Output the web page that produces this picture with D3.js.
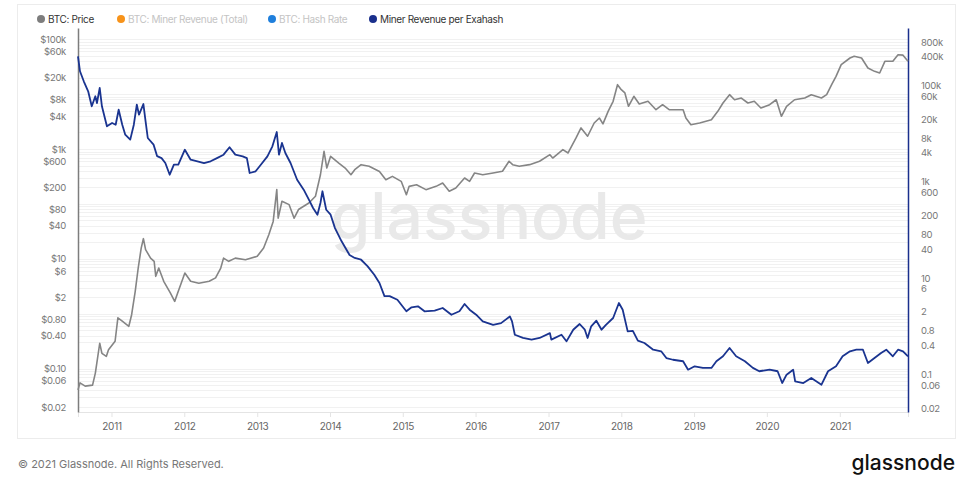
<!DOCTYPE html>
<html><head><meta charset="utf-8">
<script src="https://cdn.jsdelivr.net/npm/d3@7"></script>
<style>
body{margin:0;background:#fff;}
svg{font-family:Inter,"Noto Sans",sans-serif;}
</style>
</head><body>
<svg id="chart" width="974" height="483"></svg>
<script>
// ---------- DATA ----------
const priceDates = ["2010-07-17","2010-07-27","2010-08-22","2010-09-28","2010-10-12","2010-11-03","2010-11-14","2010-12-06","2010-12-17",
"2011-01-19","2011-02-02","2011-02-24","2011-03-29","2011-04-12","2011-04-30","2011-05-15","2011-05-30","2011-06-10","2011-06-21","2011-07-16","2011-08-03","2011-08-11","2011-08-26","2011-09-20","2011-10-23","2011-11-14","2011-12-02",
"2012-01-04","2012-02-02","2012-03-14","2012-05-05","2012-06-06","2012-07-02","2012-07-16","2012-08-11","2012-09-13","2012-11-03",
"2013-01-01","2013-02-02","2013-02-28","2013-03-22","2013-04-09","2013-04-16","2013-05-05","2013-06-10","2013-07-05","2013-07-27","2013-09-17","2013-10-20","2013-11-14","2013-12-02","2013-12-16",
"2014-01-04","2014-02-14","2014-03-18","2014-04-16","2014-05-05","2014-06-06","2014-07-16","2014-09-06","2014-10-08","2014-11-10","2014-12-24",
"2015-01-19","2015-02-02","2015-03-11","2015-04-27","2015-06-17","2015-07-20","2015-08-22","2015-09-24","2015-11-07","2015-12-02","2015-12-27",
"2016-02-06","2016-03-29","2016-05-15","2016-06-17","2016-07-05","2016-08-07","2016-09-28","2016-11-17",
"2017-01-08","2017-01-22","2017-03-14","2017-04-09","2017-05-19","2017-06-13","2017-07-16","2017-08-18","2017-09-13","2017-10-01","2017-10-27","2017-11-21","2017-12-13",
"2018-01-01","2018-01-19","2018-02-06","2018-03-05","2018-04-01","2018-05-15","2018-06-24","2018-07-27","2018-08-29","2018-11-07","2018-11-21","2018-12-16",
"2019-01-29","2019-03-29","2019-04-30","2019-05-26","2019-06-28","2019-07-23","2019-08-26","2019-09-28","2019-10-30","2019-12-02",
"2020-01-15","2020-02-17","2020-03-14","2020-04-09","2020-05-19","2020-07-09","2020-08-11","2020-10-01","2020-10-27","2020-11-21","2020-12-13",
"2021-01-08","2021-02-21","2021-03-14","2021-04-20","2021-05-22","2021-06-24","2021-07-20","2021-08-15","2021-09-24","2021-10-20","2021-11-14","2021-12-09"];
const priceValues = [0.041,0.055,0.048,0.050,0.083,0.29,0.19,0.167,0.22,
0.315,0.84,0.73,0.59,0.96,2.56,6.8,15.7,23.3,14.7,10.3,9.0,4.8,6.8,3.9,2.39,1.68,2.56,
5.5,3.9,3.6,3.9,4.5,6.8,10.3,9.0,10.3,9.6,
11.1,15.7,27.5,48,182,55,112,97,55,79,104,138,340,910,451,
737,556,451,340,421,519,484,391,276,318,258,
147,209,223,182,209,241,170,195,297,258,366,
340,366,393,598,519,484,519,598,
789,686,973,847,1590,2420,1710,2980,3670,2870,4860,7400,14860,
12050,10500,6000,9120,6600,7400,5200,6410,5200,5200,3670,2770,
2980,3420,4860,6890,9770,7900,8490,6890,7400,5580,
6410,7900,3950,6000,7900,8490,9770,8490,9770,14860,21100,
34400,45500,48800,45500,29900,26000,24300,39600,39600,52200,51300,39600];

const revDates = ["2010-07-17","2010-07-27","2010-08-15","2010-09-06","2010-09-24","2010-10-12","2010-10-20","2010-11-03","2010-11-14","2010-12-09",
"2011-01-04","2011-01-22","2011-02-06","2011-02-24","2011-03-11","2011-04-05","2011-04-23","2011-05-08","2011-05-19","2011-06-10","2011-06-21","2011-07-02","2011-07-31","2011-08-18","2011-09-09","2011-09-28","2011-10-20","2011-11-10","2011-12-02",
"2012-01-04","2012-02-02","2012-03-07","2012-04-09","2012-05-12","2012-06-13","2012-07-16","2012-08-15","2012-09-13","2012-10-20","2012-11-10","2012-11-24","2012-12-24",
"2013-01-19","2013-02-21","2013-03-18","2013-04-09","2013-04-20","2013-05-05","2013-05-22","2013-06-17","2013-07-20","2013-08-22","2013-09-17","2013-10-08","2013-10-30","2013-11-14","2013-11-24","2013-12-13",
"2014-01-04","2014-01-26","2014-02-28","2014-04-09","2014-05-05","2014-06-06","2014-07-09","2014-08-11","2014-09-06","2014-10-01","2014-10-27","2014-12-05",
"2015-01-19","2015-02-14","2015-03-18","2015-04-20","2015-06-10","2015-07-20","2015-09-02","2015-10-12","2015-11-07","2015-12-02",
"2016-01-04","2016-02-06","2016-03-29","2016-05-08","2016-06-21","2016-07-02","2016-07-16","2016-08-26","2016-10-08","2016-11-17",
"2017-01-08","2017-01-15","2017-03-07","2017-04-01","2017-05-05","2017-06-06","2017-07-02","2017-07-16","2017-08-03","2017-08-29","2017-09-24","2017-10-16","2017-11-21","2017-12-20",
"2018-01-08","2018-02-02","2018-02-28","2018-03-25","2018-04-27","2018-06-10","2018-07-20","2018-08-15","2018-09-17","2018-11-07","2018-12-02",
"2019-01-04","2019-02-14","2019-03-29","2019-04-23","2019-05-26","2019-06-28","2019-07-31","2019-09-13","2019-10-23","2019-11-24",
"2020-01-15","2020-02-24","2020-03-18","2020-04-09","2020-05-12","2020-05-22","2020-07-02","2020-08-11","2020-10-01","2020-11-03","2020-12-13",
"2021-01-15","2021-02-21","2021-03-25","2021-04-27","2021-05-22","2021-06-24","2021-07-27","2021-08-22","2021-09-24","2021-10-20","2021-11-14","2021-12-09"];
const revValues = [403000,197000,122000,75500,36900,59600,43200,88500,36900,14200,
16600,15300,31300,15300,9500,7500,15300,39800,24700,41100,18000,8100,5900,3400,3100,2450,1400,2260,2260,
4630,2870,2660,2450,2660,3100,3650,5200,3650,3370,3100,1520,1650,
2260,3370,5450,10800,3650,6400,3960,2450,1100,684,424,285,207,362,634,262,
207,109,58,30,26.1,24,17.5,11.7,7.9,4.2,4.2,3.55,
2.04,2.47,2.59,2.04,2.1,2.39,1.73,2.04,2.89,2.2,
1.73,1.26,1.07,1.16,1.6,1.26,0.665,0.57,0.525,0.57,
0.72,0.525,0.665,0.485,0.845,1.11,0.845,0.57,0.995,1.3,0.845,1.07,1.48,3.03,
2.2,0.78,0.8,0.5,0.448,0.325,0.301,0.218,0.201,0.187,0.125,
0.147,0.136,0.136,0.187,0.237,0.352,0.237,0.187,0.136,0.116,
0.125,0.116,0.066,0.0984,0.125,0.0716,0.066,0.084,0.061,0.116,0.147,
0.237,0.301,0.325,0.325,0.172,0.218,0.277,0.325,0.237,0.325,0.301,0.237];

const leftTicks = [100000,60000,20000,8000,4000,1000,600,200,80,40,10,6,2,0.8,0.4,0.1,0.06,0.02];
const leftTickLabels = ["$100k","$60k","$20k","$8k","$4k","$1k","$600","$200","$80","$40","$10","$6","$2","$0.80","$0.40","$0.10","$0.06","$0.02"];
const rightTicks = [800000,400000,100000,60000,20000,8000,4000,1000,600,200,80,40,10,6,2,0.8,0.4,0.1,0.06,0.02];
const rightTickLabels = ["800k","400k","100k","60k","20k","8k","4k","1k","600","200","80","40","10","6","2","0.8","0.4","0.1","0.06","0.02"];
const yearTicks = ["2011","2012","2013","2014","2015","2016","2017","2018","2019","2020","2021"];
const legendLabels = ["BTC: Price","BTC: Miner Revenue (Total)","BTC: Hash Rate","Miner Revenue per Exahash"];
const legendColors = ["#7d7d7d","#f7931a","#1f7fdc","#1a2f8c"];
const legendActive = [true,false,false,true];

// ---------- LAYOUT ----------
const parse = d3.timeParse("%Y-%m-%d");
const svg = d3.select("#chart");
const L = 78, R = 908, T = 28, B = 412;

const x = d3.scaleTime().domain([parse("2010-07-17"), parse("2021-12-09")]).range([L, R]);
const yL = d3.scaleLog().domain([0.01622, 160100]).range([B, T]);
const yR = d3.scaleLog().domain([0.01652, 1.56e6]).range([B, T]);

// outer frame
svg.append("rect").attr("x",17.5).attr("y",4.5).attr("width",938).attr("height",434)
  .attr("fill","none").attr("stroke","#ececec");

// grid lines (log minor ticks)
const gridVals = yL.ticks().filter(v => yL(v) > T && yL(v) < B);
svg.append("g").selectAll("line").data(gridVals).join("line")
  .attr("x1",L).attr("x2",R).attr("y1",d=>Math.round(yL(d))+0.5).attr("y2",d=>Math.round(yL(d))+0.5)
  .attr("stroke","#f1f1f1").attr("stroke-width",1);

// watermark
svg.append("text").attr("x",489).attr("y",239).attr("text-anchor","middle")
  .attr("font-size",64).attr("font-weight",500).attr("fill","#e9e9e9")
  .attr("textLength",317).attr("lengthAdjust","spacingAndGlyphs")
  .text("glassnode");

// bottom axis
const xAxis = d3.axisBottom(x)
  .tickValues(yearTicks.map(y => parse(y + "-01-01")))
  .tickFormat(d3.timeFormat("%Y")).tickSize(5).tickPadding(6);
const gx = svg.append("g").attr("transform",`translate(0,${B})`).call(xAxis);
gx.select(".domain").attr("stroke","#e4e4e4");
gx.selectAll(".tick line").attr("stroke","#e4e4e4");
gx.selectAll(".tick text").attr("fill","#666").attr("font-size",10).attr("letter-spacing",-0.3).attr("font-family","Inter");

// left axis
const gl = svg.append("g").attr("transform",`translate(${L},0)`)
  .call(d3.axisLeft(yL).tickValues(leftTicks).tickFormat((d,i)=>leftTickLabels[i]).tickSize(0).tickPadding(12));
gl.select(".domain").attr("stroke","#7d7d7d").attr("stroke-width",1.5);
gl.selectAll(".tick text").attr("fill","#777").attr("font-size",9.5).attr("letter-spacing",-0.3).attr("font-family","Inter");

// right axis
const gr = svg.append("g").attr("transform",`translate(${R},0)`)
  .call(d3.axisRight(yR).tickValues(rightTicks).tickFormat((d,i)=>rightTickLabels[i]).tickSize(0).tickPadding(13));
gr.select(".domain").attr("stroke","#1a2f8c").attr("stroke-width",1.5);
gr.selectAll(".tick text").attr("fill","#777").attr("font-size",9.5).attr("letter-spacing",-0.3).attr("font-family","Inter");

// series
const priceData = priceDates.map((d,i)=>({t:parse(d), v:priceValues[i]}));
const revData = revDates.map((d,i)=>({t:parse(d), v:revValues[i]}));

svg.append("path").datum(priceData)
  .attr("fill","none").attr("stroke","#858585").attr("stroke-width",1.6).attr("stroke-linejoin","round")
  .attr("d", d3.line().x(d=>x(d.t)).y(d=>yL(d.v)));
svg.append("path").datum(revData)
  .attr("fill","none").attr("stroke","#1a3490").attr("stroke-width",1.8).attr("stroke-linejoin","round")
  .attr("d", d3.line().x(d=>x(d.t)).y(d=>yR(d.v)));

// legend
const legendX = [41, 121, 272, 373];
const lg = svg.append("g");
legendLabels.forEach((lab,i)=>{
  lg.append("circle").attr("cx",legendX[i]).attr("cy",19).attr("r",4).attr("fill",legendColors[i]);
  lg.append("text").attr("x",legendX[i]+7).attr("y",22.5).attr("font-size",10).attr("letter-spacing",-0.35)
    .attr("fill", legendActive[i] ? "#333" : "#c4c4c4").text(lab);
});

// footer
svg.append("text").attr("x",18).attr("y",468).attr("font-size",11).attr("fill","#777")
  .text("© 2021 Glassnode. All Rights Reserved.");
svg.append("text").attr("x",955).attr("y",470).attr("text-anchor","end").attr("font-size",21)
  .attr("font-weight",500).attr("fill","#111").text("glassnode");
</script>
</body></html>
